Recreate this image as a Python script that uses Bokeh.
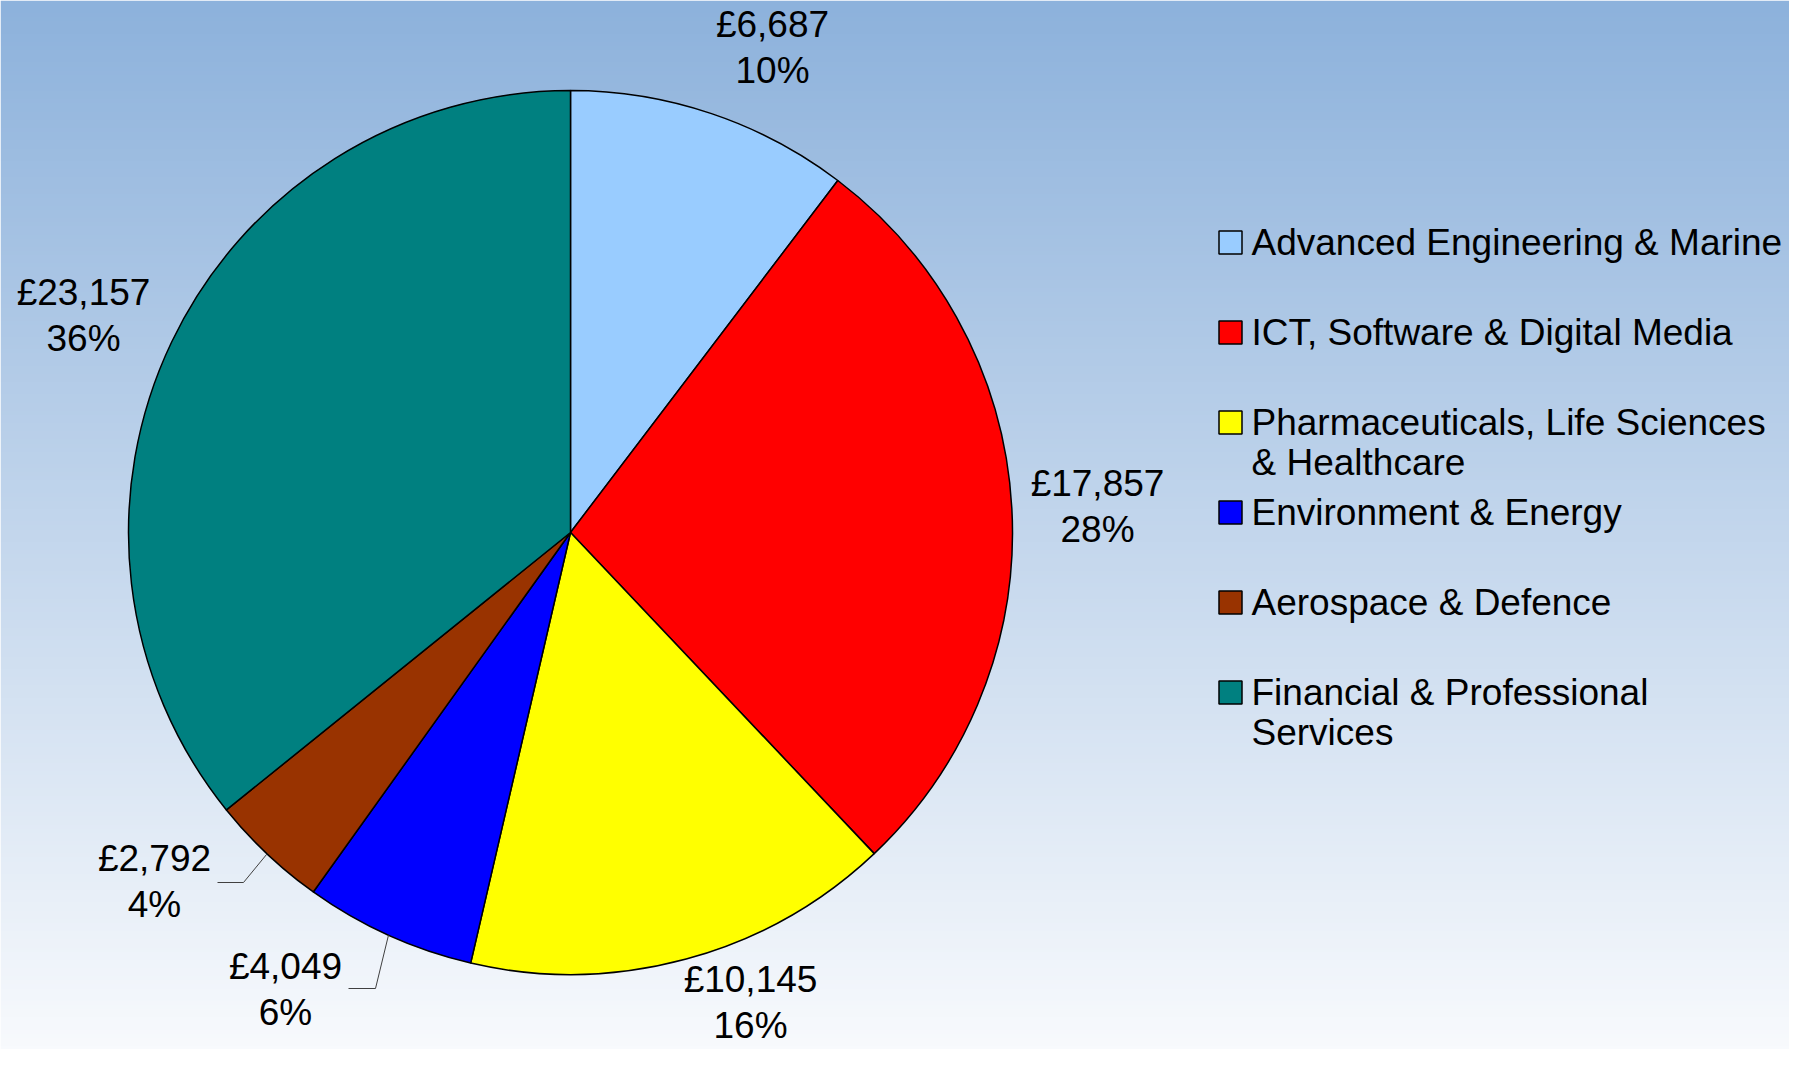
import math
import numpy as np
from bokeh.plotting import figure
from bokeh.models import Range1d, ColumnDataSource
from bokeh.core.properties import value
from bokeh.embed import file_html
from bokeh.resources import INLINE

# ---- data ----
categories = ["Advanced Engineering & Marine", "ICT, Software & Digital Media",
              "Pharmaceuticals, Life Sciences\n& Healthcare", "Environment & Energy",
              "Aerospace & Defence", "Financial & Professional\nServices"]
amounts = [6687, 17857, 10145, 4049, 2792, 23157]
colors = ["#99CCFF", "#FF0000", "#FFFF00", "#0000FF", "#993300", "#008080"]

# ---- layout (figure pixel coordinates, y up) ----
W, H = 1789, 1049
CX, CY, R = 570, 517, 442
LABEL_POS = [(772, 1002), (1097, 543), (750, 47), (285, 60), (154, 168), (83, 734)]
LEADER_ELBOW = {3: ((375, 61), (348, 61)), 4: ((243, 167), (217, 167))}
FONT = value("Liberation Sans")

p = figure(width=W, height=H, x_range=Range1d(0, W), y_range=Range1d(0, H),
           output_backend="svg", toolbar_location=None, min_border=0)
p.axis.visible = False
p.grid.visible = False
p.outline_line_color = None
p.background_fill_color = "white"
p.border_fill_color = "white"

# background gradient (top blue -> bottom near white)
n = 256
top = np.array([141, 178, 220], dtype=float)
bot = np.array([248, 250, 253], dtype=float)
img = np.empty((n, 1), dtype=np.uint32)
view = img.view(dtype=np.uint8).reshape((n, 1, 4))
for i in range(n):
    t = i / (n - 1)  # 0 bottom -> 1 top
    c = bot + (top - bot) * t
    view[i, 0, 0:3] = c.astype(np.uint8)
    view[i, 0, 3] = 255
p.image_rgba(image=[img], x=0, y=0, dw=W, dh=H)

total = float(sum(amounts))
starts, ends, mids = [], [], []
acc = 0.0
for a in amounts:
    s = math.pi / 2 - 2 * math.pi * acc / total
    e = math.pi / 2 - 2 * math.pi * (acc + a) / total
    starts.append(s)
    ends.append(e)
    mids.append((s + e) / 2)
    acc += a

src = ColumnDataSource(dict(start=starts, end=ends, color=colors))
p.wedge(x=CX, y=CY, radius=R, start_angle="start", end_angle="end", direction="clock",
        fill_color="color", line_color="black", line_width=1.5, source=src)

# data labels
vals = ["£{:,}".format(a) for a in amounts]
pcts = ["{:.0f}%".format(100 * a / total) for a in amounts]
lx = [pos[0] for pos in LABEL_POS]
ly = [pos[1] for pos in LABEL_POS]
p.text(x=lx, y=[y + 23 for y in ly], text=vals, text_font=FONT, text_font_size="37px",
       text_align="center", text_baseline="middle", text_color="black")
p.text(x=lx, y=[y - 23 for y in ly], text=pcts, text_font=FONT, text_font_size="37px",
       text_align="center", text_baseline="middle", text_color="black")

# leader lines
for idx, (elbow, end) in LEADER_ELBOW.items():
    sx = CX + R * math.cos(mids[idx])
    sy = CY + R * math.sin(mids[idx])
    p.line(x=[sx, elbow[0], end[0]], y=[sy, elbow[1], end[1]], line_color="#404040", line_width=1)

# legend
LEG_X, LEG_Y0, LEG_DY, SQ = 1230, 807, 90, 23
LEG_TX = 1251
for i, (cat, col) in enumerate(zip(categories, colors)):
    y = LEG_Y0 - i * LEG_DY
    p.rect(x=LEG_X, y=y, width=SQ, height=SQ, fill_color=col, line_color="black", line_width=1.5)
    for j, line in enumerate(cat.split("\n")):
        p.text(x=[LEG_TX], y=[y - j * 40], text=[line], text_font=FONT, text_font_size="37px",
               text_align="left", text_baseline="middle", text_color="black")

open("out.html", "w").write(file_html(p, INLINE))
